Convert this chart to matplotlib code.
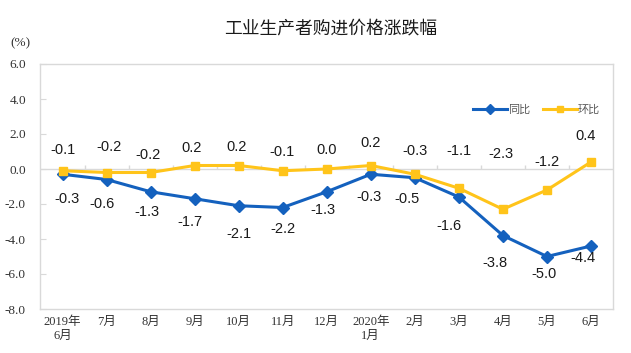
import matplotlib
matplotlib.use("Agg")
import matplotlib.pyplot as plt

months = ["2019年\n6月", "7月", "8月", "9月", "10月", "11月", "12月",
          "2020年\n1月", "2月", "3月", "4月", "5月", "6月"]
yoy = [-0.3, -0.6, -1.3, -1.7, -2.1, -2.2, -1.3, -0.3, -0.5, -1.6, -3.8, -5.0, -4.4]
mom = [-0.1, -0.2, -0.2, 0.2, 0.2, -0.1, 0.0, 0.2, -0.3, -1.1, -2.3, -1.2, 0.4]
yticks = [6.0, 4.0, 2.0, 0.0, -2.0, -4.0, -6.0, -8.0]

# label placement (layout only)
mom_lab_y = [1.11, 1.28, 0.82, 1.22, 1.28, 0.99, 1.11, 1.51, 1.05, 1.05, 0.88, 0.42, 1.91]
mom_lab_dx = [0, 2, -3, -3, -2, -1, 0, 0, 0, 0, -1.5, 0, -5]
yoy_lab_y = [-1.71, -1.99, -2.45, -3.02, -3.71, -3.43, -2.34, -1.59, -1.71, -3.25, -5.38, -6.01, -5.09]
yoy_lab_dx = [4.5, -5, -4, -5, 0, 0, -4, -2, -8, -10, -8, -3, -8]

BLUE = "#1461BE"
YELLOW = "#FFC41A"
GRID = "#D9D9D9"

fig = plt.figure(figsize=(6.31, 3.53), dpi=100)
ax = fig.add_axes([40.5/631, 1-309/353, (613-40.5)/631, (309-64)/353])

x = list(range(len(months)))
ax.set_xlim(-0.5, len(months)-0.5)
ax.set_ylim(-8, 6)

# zero axis line with category tick marks
ax.axhline(0, color=GRID, lw=1.0, zorder=1)
ax.vlines([i + 0.5 for i in range(len(months)-1)], 0, 0.25, color=GRID, lw=1.0, zorder=1)

ax.plot(x, yoy, color=BLUE, lw=2.2, marker="D", ms=6.5, label="同比", zorder=3)
ax.plot(x, mom, color=YELLOW, lw=2.2, marker="s", ms=6, label="环比", zorder=3)

px = 1.0 / 44.1
for i in x:
    ax.text(i + mom_lab_dx[i]*px, mom_lab_y[i], f"{mom[i]:.1f}", ha="center", va="center",
            fontsize=10.5, family="Liberation Sans", color="#1a1a1a")
    ax.text(i + yoy_lab_dx[i]*px, yoy_lab_y[i], f"{yoy[i]:.1f}", ha="center", va="center",
            fontsize=10.5, family="Liberation Sans", color="#1a1a1a")

for s in ax.spines.values():
    s.set_color(GRID)
    s.set_linewidth(1.0)

ax.set_yticks(yticks)
ax.set_yticklabels([f"{v:.1f}" for v in yticks], family="Liberation Serif", fontsize=9.5, color="#333333")
ax.tick_params(axis="y", direction="in", length=4, color=GRID, pad=10.5)
ax.set_xticks(x)
ax.set_xticklabels(months, family=["Liberation Serif", "Noto Sans CJK SC"], fontsize=9,
                   color="#333333", linespacing=1.2)
ax.tick_params(axis="x", length=0, pad=5)

leg = ax.legend(loc="upper right", bbox_to_anchor=(0.995, 0.875), ncol=2, frameon=False,
                prop={"family": ["Noto Sans CJK SC"], "size": 8}, handlelength=3.0,
                columnspacing=1.2, handletextpad=0.1, labelcolor="#595959")
for h in leg.legend_handles:
    h.set_markersize(5)

fig.text(331/631, 1-28/353, "工业生产者购进价格涨跌幅", ha="center", va="center",
         family=["Noto Sans CJK SC"], fontsize=12.8, color="#1a1a1a")
fig.text(20/631, 1-43/353, "(%)", ha="center", va="center", family="Liberation Serif",
         fontsize=9.5, color="#333333")

fig.savefig("out.png", dpi=100)
